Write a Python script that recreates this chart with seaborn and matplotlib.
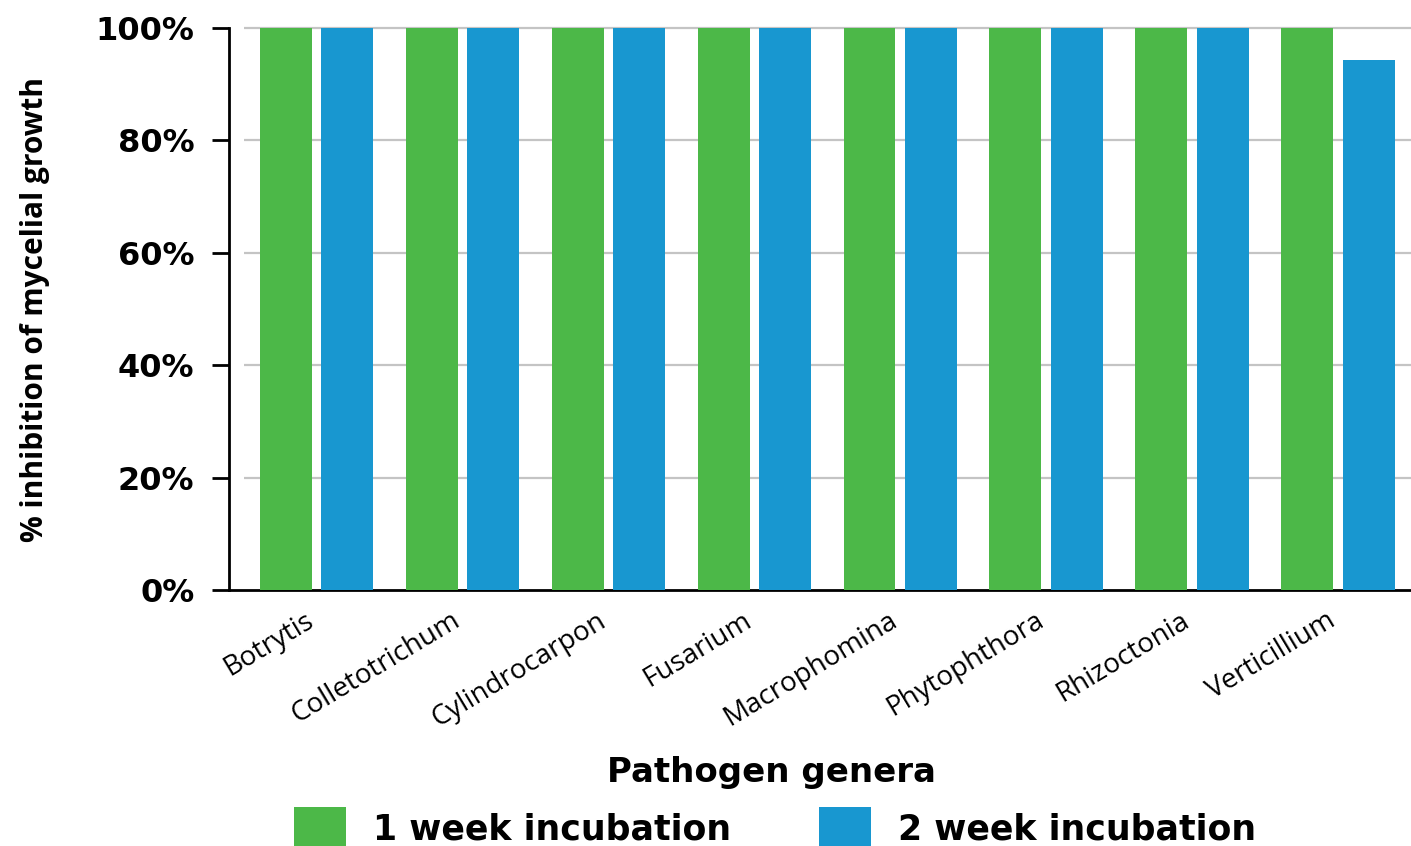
import matplotlib
matplotlib.use("Agg")
import matplotlib.pyplot as plt
import matplotlib.transforms as mtransforms
import seaborn as sns
import pandas as pd

# Pathogen genera and percentage inhibition after each incubation period
genera = ["Botrytis", "Colletotrichum", "Cylindrocarpon", "Fusarium",
          "Macrophomina", "Phytophthora", "Rhizoctonia", "Verticillium"]
week1 = [100, 100, 100, 100, 100, 100, 100, 100]
week2 = [100, 100, 100, 100, 100, 100, 100, 94.3]
series_names = ["1 week incubation", "2 week incubation"]
y_ticks = [0, 20, 40, 60, 80, 100]
y_tick_labels = ["0%", "20%", "40%", "60%", "80%", "100%"]

colors = {series_names[0]: "#4cb848", series_names[1]: "#1897d0"}

df = pd.DataFrame({
    "genus": genera * 2,
    "inhibition": week1 + week2,
    "period": [series_names[0]] * len(genera) + [series_names[1]] * len(genera),
})

sns.set_style("white")
plt.rcParams["text.color"] = "black"
plt.rcParams["axes.labelcolor"] = "black"
plt.rcParams["xtick.color"] = "black"
plt.rcParams["ytick.color"] = "black"
bold_font = ["DejaVu Sans"]
label_font = ["Open Sans", "DejaVu Sans"]

fig = plt.figure(figsize=(14.11, 8.46), dpi=100)
ax = fig.add_axes([229 / 1411, 1 - 590 / 846, 1 - 229 / 1411, (590 - 28) / 846])

sns.barplot(data=df, x="genus", y="inhibition", hue="period", palette=colors,
            order=genera, hue_order=series_names, width=0.843, gap=0.155,
            saturation=1, linewidth=0, errorbar=None, legend=False,
            zorder=3, ax=ax)

ax.set_xlim(-0.6, 7.5)
ax.set_ylim(0, 100)

# Horizontal guide lines starting just right of the y axis
ax.hlines(y_ticks[1:], -0.5, 7.5, color="#c4c4c4", linewidth=1.6,
          zorder=1, clip_on=False)

for side in ["top", "right"]:
    ax.spines[side].set_visible(False)
for side in ["left", "bottom"]:
    ax.spines[side].set_color("black")
    ax.spines[side].set_linewidth(2)

ax.set_yticks(y_ticks)
ax.set_yticklabels(y_tick_labels, fontfamily=bold_font, fontweight="bold",
                   fontsize=23)
ax.tick_params(axis="y", direction="out", length=12, width=2, color="black",
               pad=13, left=True)
ax.tick_params(axis="x", length=0, pad=12)
ax.set_xticks(range(len(genera)))
ax.set_xticklabels(genera, rotation=31, ha="right", rotation_mode="anchor",
                   fontfamily=label_font, fontsize=20)
# Nudge the slanted category names a little to the left of each group
shift = mtransforms.ScaledTranslation(-12 / 100, 0, fig.dpi_scale_trans)
for lbl in ax.get_xticklabels():
    lbl.set_transform(lbl.get_transform() + shift)

ax.set_ylabel("% inhibition of mycelial growth", fontfamily=label_font,
              fontweight="bold", fontsize=21.5, va="center")
ax.yaxis.set_label_coords((35 - 229) / 1182, 0.5)
ax.set_xlabel("Pathogen genera", fontfamily=bold_font, fontweight="bold",
              fontsize=24.5, va="center")
ax.xaxis.set_label_coords((771 - 229) / 1182, (590 - 772) / 562)

handles = [plt.Rectangle((0, 0), 1, 1, facecolor=colors[s], edgecolor="none")
           for s in series_names]
fs_leg = 25
px = fs_leg * 100 / 72
fig.legend(handles, series_names, loc="upper center", ncol=2,
           bbox_to_anchor=(775 / 1411, 1 - 807 / 846), frameon=False,
           prop={"family": bold_font, "weight": "bold", "size": fs_leg},
           handlelength=52 / px, handleheight=52 / px,
           handletextpad=27 / px, columnspacing=88 / px,
           borderpad=0, borderaxespad=0)

fig.savefig("out.png", dpi=100)
